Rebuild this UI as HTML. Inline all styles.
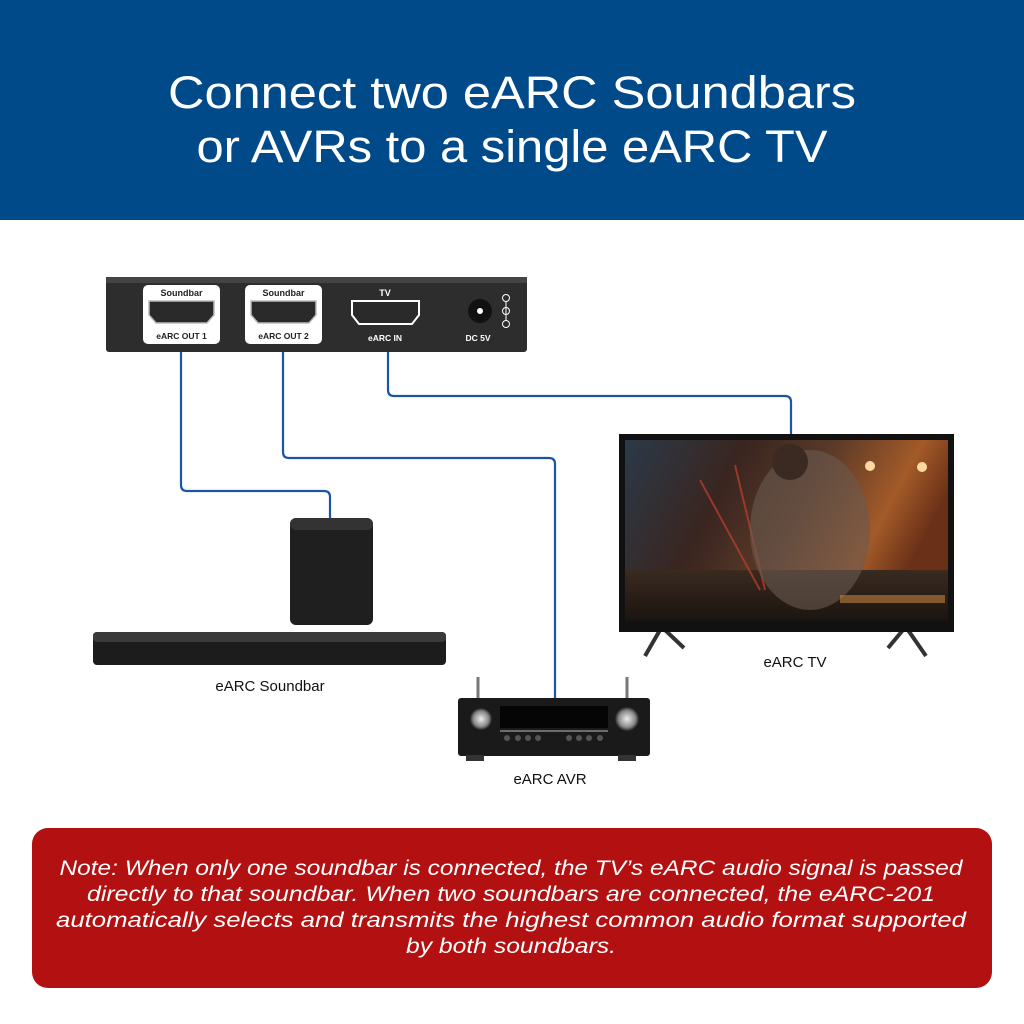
<!DOCTYPE html>
<html><head><meta charset="utf-8"><style>
html,body{margin:0;padding:0;background:#fff}
svg{display:block}
text{font-family:"Liberation Sans",sans-serif}
</style></head><body>
<svg width="1024" height="1024" viewBox="0 0 1024 1024" xmlns="http://www.w3.org/2000/svg">
<defs>
<linearGradient id="scr" x1="0" y1="0" x2="1" y2="0.3">
<stop offset="0" stop-color="#2a3a48"/><stop offset="0.35" stop-color="#3a2520"/><stop offset="0.6" stop-color="#5a3a28"/><stop offset="0.85" stop-color="#a35a28"/><stop offset="1" stop-color="#6a3018"/>
</linearGradient>
<linearGradient id="floor" x1="0" y1="0" x2="0" y2="1"><stop offset="0" stop-color="#3a2a20"/><stop offset="1" stop-color="#1a1410"/></linearGradient>
<radialGradient id="knob"><stop offset="0" stop-color="#eee"/><stop offset="0.7" stop-color="#888"/><stop offset="1" stop-color="#222"/></radialGradient>
</defs>
<rect x="0" y="0" width="1024" height="220" fill="#004a8a"/>
<text x="512" y="108" font-size="45" fill="#fff" text-anchor="middle" textLength="688" lengthAdjust="spacingAndGlyphs">Connect two eARC Soundbars</text>
<text x="512" y="162" font-size="45" fill="#fff" text-anchor="middle" textLength="631" lengthAdjust="spacingAndGlyphs">or AVRs to a single eARC TV</text>

<g fill="none" stroke="#1a56a8" stroke-width="2.2">
<path d="M181 352 V485 Q181 491 187 491 H324 Q330 491 330 497 V520"/>
<path d="M283 352 V452 Q283 458 289 458 H549 Q555 458 555 464 V700"/>
<path d="M388 352 V390 Q388 396 394 396 H785 Q791 396 791 402 V436"/>
</g>

<rect x="106" y="277" width="421" height="75" rx="3" fill="#2d2d2d"/>
<rect x="106" y="277" width="421" height="6" fill="#444"/>
<g>
<rect x="143" y="285" width="77" height="59" rx="5" fill="#fff"/>
<rect x="245" y="285" width="77" height="59" rx="5" fill="#fff"/>
<text x="181.5" y="296" font-size="9" font-weight="bold" fill="#222" text-anchor="middle">Soundbar</text>
<text x="283.5" y="296" font-size="9" font-weight="bold" fill="#222" text-anchor="middle">Soundbar</text>
<text x="181.5" y="339" font-size="8.5" font-weight="bold" fill="#222" text-anchor="middle">eARC OUT 1</text>
<text x="283.5" y="339" font-size="8.5" font-weight="bold" fill="#222" text-anchor="middle">eARC OUT 2</text>
<text x="385" y="296" font-size="9" font-weight="bold" fill="#fff" text-anchor="middle">TV</text>
<text x="385" y="341" font-size="8.5" font-weight="bold" fill="#fff" text-anchor="middle">eARC IN</text>
<text x="478" y="341" font-size="8.5" font-weight="bold" fill="#fff" text-anchor="middle">DC 5V</text>
<path d="M149 301 H214 V315 L207 323 H156 L149 315 Z" fill="#2a2a2a" stroke="#bbb" stroke-width="1.5"/>
<path d="M251 301 H316 V315 L309 323 H258 L251 315 Z" fill="#2a2a2a" stroke="#bbb" stroke-width="1.5"/>
<path d="M352 301 H419 V315 L412 324 H359 L352 315 Z" fill="#2a2a2a" stroke="#fff" stroke-width="2"/>
<circle cx="480" cy="311" r="12" fill="#111"/><circle cx="480" cy="311" r="3" fill="#fff"/>
<circle cx="506" cy="298" r="3.5" fill="none" stroke="#fff"/><circle cx="506" cy="311" r="3.5" fill="none" stroke="#fff"/><circle cx="506" cy="324" r="3.5" fill="none" stroke="#fff"/>
<line x1="506" y1="301" x2="506" y2="321" stroke="#fff"/>
</g>

<path d="M660 630 L645 656 M665 630 L684 648" stroke="#333" stroke-width="4"/>
<path d="M908 630 L926 656 M903 630 L888 648" stroke="#333" stroke-width="4"/>
<rect x="619" y="434" width="335" height="198" fill="#111"/>
<rect x="625" y="440" width="323" height="181" fill="url(#scr)"/>
<rect x="625" y="570" width="323" height="51" fill="url(#floor)"/>
<path d="M700 480 L760 590 M735 465 L765 590" stroke="#c0402a" stroke-width="2" opacity="0.7"/>
<ellipse cx="810" cy="530" rx="60" ry="80" fill="#6a5a50" opacity="0.6"/>
<circle cx="790" cy="462" r="18" fill="#3a2a22"/>
<circle cx="870" cy="466" r="5" fill="#ffd9a0"/><circle cx="922" cy="467" r="5" fill="#ffd9a0"/>
<rect x="840" y="595" width="105" height="8" fill="#c08040" opacity="0.6"/>
<text x="795" y="667" font-size="15" fill="#111" text-anchor="middle">eARC TV</text>

<rect x="290" y="518" width="83" height="107" rx="6" fill="#1f1f1f"/>
<rect x="290" y="518" width="83" height="12" rx="6" fill="#333"/>
<rect x="93" y="632" width="353" height="33" rx="4" fill="#1c1c1c"/>
<rect x="93" y="632" width="353" height="10" rx="4" fill="#3a3a3a"/>
<text x="270" y="691" font-size="15" fill="#111" text-anchor="middle">eARC Soundbar</text>

<line x1="478" y1="677" x2="478" y2="700" stroke="#777" stroke-width="3"/>
<line x1="627" y1="677" x2="627" y2="700" stroke="#777" stroke-width="3"/>
<rect x="458" y="698" width="192" height="58" rx="3" fill="#1a1a1a"/>
<rect x="500" y="706" width="108" height="22" fill="#050505"/>
<line x1="500" y1="731" x2="608" y2="731" stroke="#888" stroke-width="1.5"/>
<g fill="#555"><circle cx="507" cy="738" r="3"/><circle cx="518" cy="738" r="3"/><circle cx="528" cy="738" r="3"/><circle cx="538" cy="738" r="3"/><circle cx="569" cy="738" r="3"/><circle cx="579" cy="738" r="3"/><circle cx="589" cy="738" r="3"/><circle cx="600" cy="738" r="3"/></g>
<circle cx="481" cy="719" r="11" fill="url(#knob)"/>
<circle cx="627" cy="719" r="12" fill="url(#knob)"/>
<rect x="466" y="755" width="18" height="6" fill="#333"/><rect x="618" y="755" width="18" height="6" fill="#333"/>
<text x="550" y="784" font-size="15" fill="#111" text-anchor="middle">eARC AVR</text>

<rect x="32" y="828" width="960" height="160" rx="16" fill="#b31011"/>
<g font-size="21" font-style="italic" fill="#fff" text-anchor="middle">
<text x="511" y="875" textLength="903" lengthAdjust="spacingAndGlyphs">Note: When only one soundbar is connected, the TV’s eARC audio signal is passed</text>
<text x="511" y="901" textLength="848" lengthAdjust="spacingAndGlyphs">directly to that soundbar. When two soundbars are connected, the eARC-201</text>
<text x="511" y="927" textLength="910" lengthAdjust="spacingAndGlyphs">automatically selects and transmits the highest common audio format supported</text>
<text x="511" y="953" textLength="210" lengthAdjust="spacingAndGlyphs">by both soundbars.</text>
</g>
</svg>
</body></html>
